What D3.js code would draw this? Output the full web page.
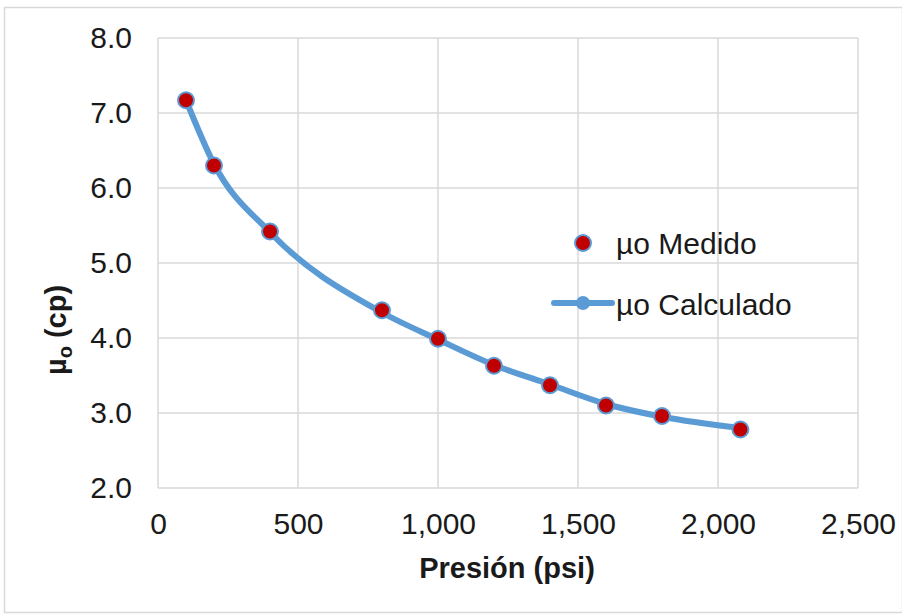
<!DOCTYPE html>
<html>
<head>
<meta charset="utf-8">
<script src="https://cdn.jsdelivr.net/npm/d3@7/dist/d3.min.js"></script>
<style>
  html, body { margin: 0; padding: 0; background: #fff; }
  svg { display: block; font-family: "Liberation Sans", Arial, sans-serif; }
</style>
</head>
<body>
<svg id="chart" width="902" height="615"></svg>
<script>
// Oil viscosity vs pressure: measured points and calculated curve
const pressure   = [100, 200, 400, 800, 1000, 1200, 1400, 1600, 1800, 2080];
const medido     = [7.17, 6.30, 5.42, 4.37, 3.99, 3.63, 3.37, 3.10, 2.96, 2.78];
const calculado  = [7.17, 6.32, 5.41, 4.34, 3.98, 3.64, 3.38, 3.12, 2.95, 2.80];
const xTicks     = [0, 500, 1000, 1500, 2000, 2500];
const yTicks     = [2, 3, 4, 5, 6, 7, 8];
const seriesNames = ["µo Medido", "µo Calculado"];

const svg = d3.select("#chart");
const W = 902, H = 615;
const m = { left: 158, right: 858, top: 38, bottom: 488 };

const grid = "#d9d9d9";
const blue = "#5b9bd5";
const red  = "#c00000";
const ink  = "#1a1a1a";

// outer chart frame
svg.append("rect")
  .attr("x", 4.5).attr("y", 7.5)
  .attr("width", W - 4).attr("height", H - 10)
  .attr("fill", "#fff").attr("stroke", grid).attr("stroke-width", 1.5);

const x = d3.scaleLinear().domain([0, 2500]).range([m.left, m.right]);
const y = d3.scaleLinear().domain([2, 8]).range([m.bottom, m.top]);

// gridlines
svg.append("g").selectAll("line").data(yTicks).join("line")
  .attr("x1", m.left).attr("x2", m.right)
  .attr("y1", d => y(d)).attr("y2", d => y(d))
  .attr("stroke", grid).attr("stroke-width", 1.5);
svg.append("g").selectAll("line").data(xTicks).join("line")
  .attr("x1", d => x(d)).attr("x2", d => x(d))
  .attr("y1", m.top).attr("y2", m.bottom)
  .attr("stroke", grid).attr("stroke-width", 1.5);

// axes (labels only, the frame lines come from the grid)
const xAxis = svg.append("g")
  .attr("transform", `translate(0,${m.bottom})`)
  .call(d3.axisBottom(x).tickValues(xTicks).tickSize(0).tickPadding(25)
        .tickFormat(d3.format(",")));
const yAxis = svg.append("g")
  .attr("transform", `translate(${m.left},0)`)
  .call(d3.axisLeft(y).tickValues(yTicks).tickSize(0).tickPadding(26)
        .tickFormat(d3.format(".1f")));
[xAxis, yAxis].forEach(a => {
  a.select(".domain").remove();
  a.selectAll("text")
    .attr("font-family", "Liberation Sans, Arial, sans-serif")
    .attr("font-size", 30).attr("fill", ink);
});

// axis titles
svg.append("text")
  .attr("x", 507).attr("y", 578)
  .attr("text-anchor", "middle")
  .attr("font-size", 29).attr("font-weight", "bold").attr("fill", ink)
  .text("Presión (psi)");

const yt = svg.append("text")
  .attr("transform", "translate(66,330) rotate(-90)")
  .attr("text-anchor", "middle")
  .attr("font-size", 29).attr("font-weight", "bold").attr("fill", ink);
yt.append("tspan").text("µ");
yt.append("tspan").attr("font-size", 20).attr("dy", 6).text("o");
yt.append("tspan").attr("dy", -6).text(" (cp)");

// calculated curve
const calcData = pressure.map((p, i) => [p, calculado[i]]);
const line = d3.line().x(d => x(d[0])).y(d => y(d[1])).curve(d3.curveMonotoneX);
svg.append("path").datum(calcData)
  .attr("d", line)
  .attr("fill", "none").attr("stroke", blue).attr("stroke-width", 6)
  .attr("stroke-linejoin", "round").attr("stroke-linecap", "round");
svg.append("g").selectAll("circle").data(calcData).join("circle")
  .attr("cx", d => x(d[0])).attr("cy", d => y(d[1])).attr("r", 6)
  .attr("fill", blue);

// measured points
const medData = pressure.map((p, i) => [p, medido[i]]);
svg.append("g").selectAll("circle").data(medData).join("circle")
  .attr("cx", d => x(d[0])).attr("cy", d => y(d[1])).attr("r", 8)
  .attr("fill", red).attr("stroke", blue).attr("stroke-width", 2);

// legend
const lg = svg.append("g");
lg.append("circle").attr("cx", 583).attr("cy", 243).attr("r", 8)
  .attr("fill", red).attr("stroke", blue).attr("stroke-width", 2);
lg.append("text").attr("x", 616).attr("y", 254)
  .attr("font-size", 30).attr("fill", ink).text(seriesNames[0]);
lg.append("line").attr("x1", 554).attr("x2", 612).attr("y1", 303).attr("y2", 303)
  .attr("stroke", blue).attr("stroke-width", 6).attr("stroke-linecap", "round");
lg.append("circle").attr("cx", 583).attr("cy", 303).attr("r", 7).attr("fill", blue);
lg.append("text").attr("x", 616).attr("y", 315)
  .attr("font-size", 30).attr("fill", ink).text(seriesNames[1]);
</script>
</body>
</html>
